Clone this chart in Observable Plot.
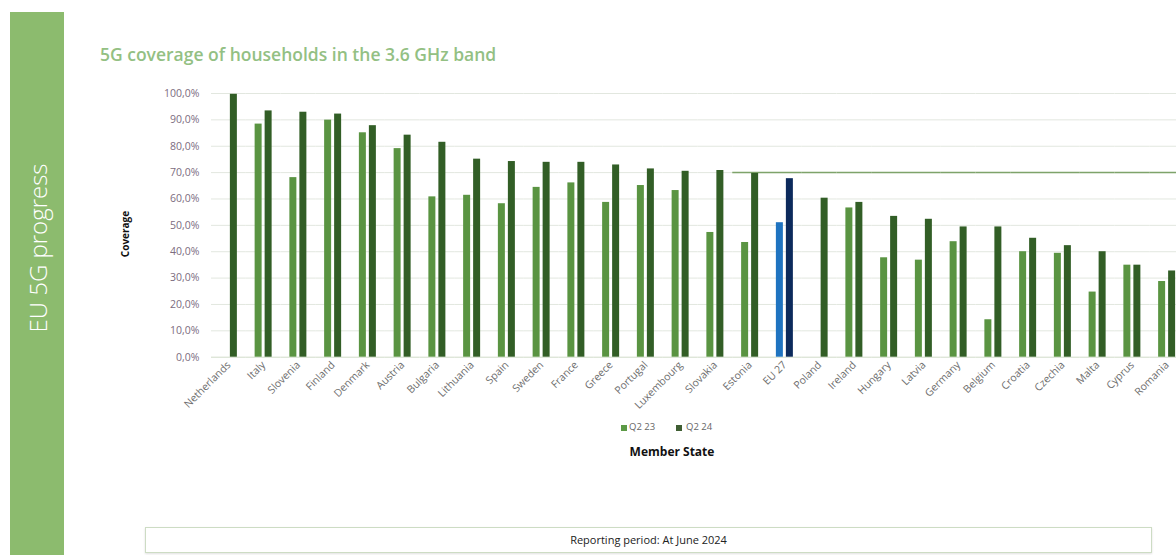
<!DOCTYPE html>
<html>
<head>
<meta charset="utf-8">
<script src="https://cdn.jsdelivr.net/npm/d3@7"></script>
<script src="https://cdn.jsdelivr.net/npm/@observablehq/plot@0.6"></script>
<style>
html, body { margin: 0; padding: 0; background: #fff; }
body { width: 1176px; height: 555px; overflow: hidden; position: relative; font-family: "Open Sans", sans-serif; }
#side { position: absolute; left: 10px; top: 12px; width: 54px; height: 543px; background: #8cbb6e; }
#side span { position: absolute; left: 27px; top: 236px; transform: translate(-50%, -50%) rotate(-90deg); white-space: nowrap; color: #fff; font-size: 24px; font-weight: 300; }
#title { position: absolute; left: 100px; top: 42px; font-size: 17.5px; font-weight: 600; color: #93c083; white-space: nowrap; }
#chart { position: absolute; left: 0; top: 80px; }
#ylabel { position: absolute; left: 125px; top: 234px; transform: translate(-50%, -50%) rotate(-90deg); font-size: 10px; font-weight: 700; color: #111; white-space: nowrap; }
.lg { position: absolute; top: 420px; font-size: 9.5px; color: #666; white-space: nowrap; }
.sw { position: absolute; top: 425px; width: 6px; height: 6px; }
#xlabel { position: absolute; left: 672px; top: 443px; transform: translateX(-50%); font-size: 12px; font-weight: 700; color: #111; white-space: nowrap; }
#box { position: absolute; left: 145px; top: 527px; width: 1005px; height: 24px; border: 1px solid #cddcc4; box-shadow: 0 1px 2px rgba(0,0,0,0.12); text-align: center; line-height: 24px; font-size: 11px; color: #222; }
#chart g[aria-label="y-axis tick label"] text { fill: #7c6c80; font-size: 10.5px; }
#chart g[aria-label="fx-axis tick label"] text { fill: #6e6e6e; font-size: 10.5px; }
</style>
</head>
<body>
<div id="side"><span>EU 5G progress</span></div>
<div id="title">5G coverage of households in the 3.6 GHz band</div>
<div id="ylabel">Coverage</div>
<div id="chart"></div>
<div class="sw" style="left:621px;background:#5c9a46"></div><div class="lg" style="left:629px">Q2 23</div>
<div class="sw" style="left:676px;background:#3f5e33"></div><div class="lg" style="left:686px">Q2 24</div>
<div id="xlabel">Member State</div>
<div id="box">Reporting period: At June 2024</div>
<script>
const countries = ["Netherlands","Italy","Slovenia","Finland","Denmark","Austria","Bulgaria","Lithuania","Spain","Sweden","France","Greece","Portugal","Luxembourg","Slovakia","Estonia","EU 27","Poland","Ireland","Hungary","Latvia","Germany","Belgium","Croatia","Czechia","Malta","Cyprus","Romania"];
const seriesNames = ["Q2 23", "Q2 24"];
const q2_23 = [0, 88.4, 68.1, 89.9, 85.1, 79.1, 60.8, 61.4, 58.2, 64.4, 66.1, 58.7, 65.1, 63.2, 47.3, 43.5, 51.0, 0, 56.6, 37.7, 36.8, 43.8, 14.2, 40.0, 39.4, 24.7, 34.9, 28.7];
const q2_24 = [99.7, 93.4, 92.9, 92.2, 87.8, 84.2, 81.5, 75.1, 74.2, 73.9, 73.9, 72.9, 71.4, 70.5, 70.8, 69.7, 67.7, 60.3, 58.7, 53.4, 52.3, 49.4, 49.4, 45.1, 42.3, 40.0, 34.9, 32.7];
const yTicks = [0, 10, 20, 30, 40, 50, 60, 70, 80, 90, 100];
const refLineValue = 70;
const refLineCountries = ["Estonia","EU 27","Poland","Ireland","Hungary","Latvia","Germany","Belgium","Croatia","Czechia","Malta","Cyprus","Romania"];

const data = countries.flatMap((c, i) => [
  {country: c, series: "Q2 23", value: q2_23[i]},
  {country: c, series: "Q2 24", value: q2_24[i]}
]);
const refData = refLineCountries.map(c => ({country: c, value: refLineValue}));
const colorKey = d => (d.country === "EU 27" ? "EU 27 " : "") + d.series;

const chart = Plot.plot({
  width: 1184,
  height: 340,
  marginTop: 13,
  marginBottom: 63.3,
  marginLeft: 211,
  marginRight: 0,
  style: {fontFamily: "Open Sans", fontSize: "10px", overflow: "visible", maxWidth: "none", background: "transparent"},
  fx: {domain: countries, padding: 0, round: false, label: null, tickRotate: -45, tickSize: 0, tickPadding: 6},
  x: {domain: seriesNames, paddingInner: 0.3, paddingOuter: 0.8875, round: false, axis: null},
  y: {domain: [0, 100], label: null, ticks: yTicks, tickSize: 0, tickPadding: 12,
      tickFormat: d => d.toFixed(1).replace(".", ",") + "%"},
  color: {domain: ["Q2 23", "Q2 24", "EU 27 Q2 23", "EU 27 Q2 24"],
          range: ["#5a9442", "#325e26", "#1f73c0", "#0c2a5c"]},
  marks: [
    Plot.ruleY(yTicks.filter(t => t > 0), {stroke: "#e2e7df"}),
    Plot.ruleY([0], {stroke: "#d0dbc8"}),
    Plot.ruleY(refData, {fx: "country", y: "value", stroke: "#7ea36a", strokeWidth: 1.5}),
    Plot.barY(data, {fx: "country", x: "series", y: "value", fill: colorKey})
  ]
});
document.getElementById("chart").appendChild(chart);
</script>
</body>
</html>
